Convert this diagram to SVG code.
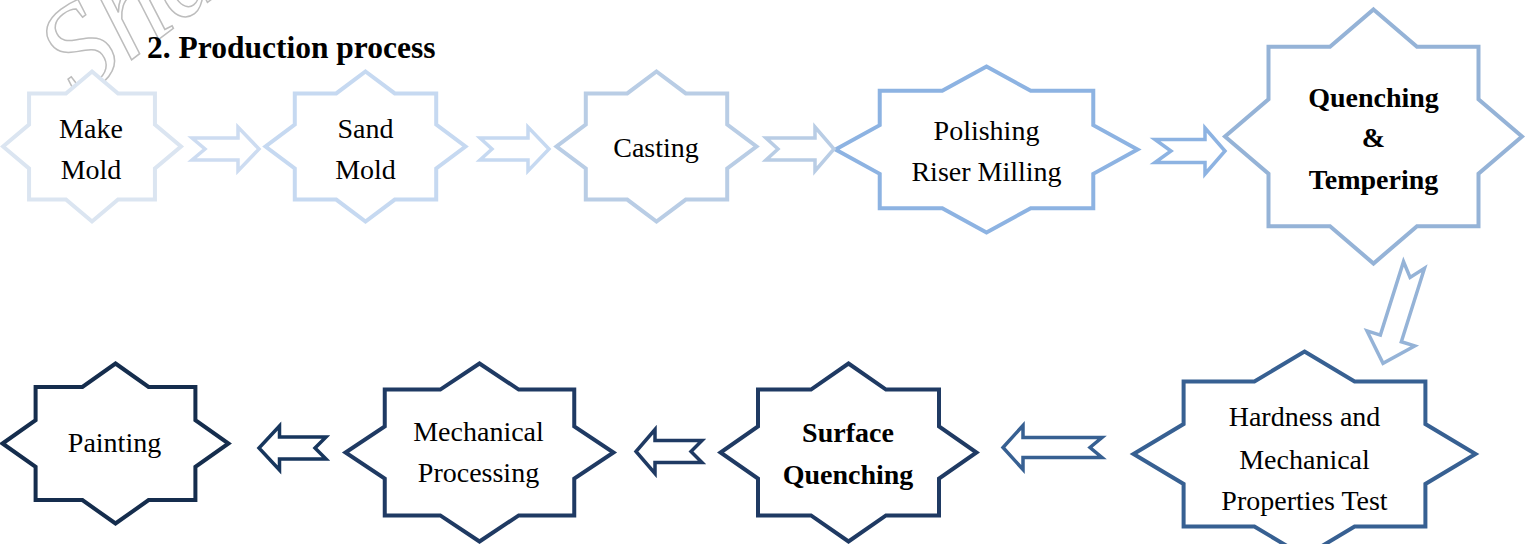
<svg xmlns="http://www.w3.org/2000/svg" width="1535" height="544" viewBox="0 0 1535 544">
<style>
.star{fill:#ffffff;stroke-width:4;stroke-linejoin:miter}
.arr{fill:#ffffff;stroke-width:3.5;stroke-linejoin:miter}
.lbl{font-family:"Liberation Serif","Times New Roman",serif;font-size:28px;fill:#000000;text-anchor:middle}
.b{font-weight:bold}
.wm{font-family:"Liberation Serif","Times New Roman",serif;font-style:italic;font-size:125px;fill:#ffffff;stroke:#bdbdbd;stroke-width:1.5}
</style>
<rect width="1535" height="544" fill="#ffffff"/>
<text class="wm" transform="translate(78,100) rotate(-37)">Sha</text>
<text id="title" x="147" y="58" font-family="'Liberation Serif','Times New Roman',serif" font-size="31.5" font-weight="bold" fill="#000000">2. Production process</text>
<g id="node-make-mold">
<polygon class="star" stroke="#dbe5f1" points="92,71.5 118.07,93.47 154.93,93.47 154.93,124.53 181,146.5 154.93,168.47 154.93,199.53 118.07,199.53 92,221.5 65.93,199.53 29.07,199.53 29.07,168.47 3,146.5 29.07,124.53 29.07,93.47 65.93,93.47"/>
<text class="lbl" x="91" y="137.5">Make</text>
<text class="lbl" x="91" y="178.5">Mold</text>
</g>
<g id="node-sand-mold">
<polygon class="star" stroke="#c6d9f1" points="365.5,71.5 394.79,93.47 436.21,93.47 436.21,124.53 465.5,146.5 436.21,168.47 436.21,199.53 394.79,199.53 365.5,221.5 336.21,199.53 294.79,199.53 294.79,168.47 265.5,146.5 294.79,124.53 294.79,93.47 336.21,93.47"/>
<text class="lbl" x="365.5" y="137.5">Sand</text>
<text class="lbl" x="365.5" y="178.5">Mold</text>
</g>
<g id="node-casting">
<polygon class="star" stroke="#b9cde5" points="656.5,71.5 685.79,93.47 727.21,93.47 727.21,124.53 756.5,146.5 727.21,168.47 727.21,199.53 685.79,199.53 656.5,221.5 627.21,199.53 585.79,199.53 585.79,168.47 556.5,146.5 585.79,124.53 585.79,93.47 627.21,93.47"/>
<text class="lbl" x="656" y="157">Casting</text>
</g>
<g id="node-polishing">
<polygon class="star" stroke="#8db3e2" points="986.5,66.5 1030.73,90.81 1093.27,90.81 1093.27,125.19 1137.5,149.5 1093.27,173.81 1093.27,208.19 1030.73,208.19 986.5,232.5 942.27,208.19 879.73,208.19 879.73,173.81 835.5,149.5 879.73,125.19 879.73,90.81 942.27,90.81"/>
<text class="lbl" x="986.5" y="139.5">Polishing</text>
<text class="lbl" x="986.5" y="180.5">Riser Milling</text>
</g>
<g id="node-quenching-tempering">
<polygon class="star" stroke="#95b3d7" points="1373.5,9.5 1417,46.7 1478.5,46.7 1478.5,99.3 1522,136.5 1478.5,173.7 1478.5,226.3 1417,226.3 1373.5,263.5 1330,226.3 1268.5,226.3 1268.5,173.7 1225,136.5 1268.5,99.3 1268.5,46.7 1330,46.7"/>
<text class="lbl b" x="1373.5" y="106.5">Quenching</text>
<text class="lbl b" x="1373.5" y="147">&amp;</text>
<text class="lbl b" x="1373.5" y="188.5">Tempering</text>
</g>
<g id="node-hardness-test">
<polygon class="star" stroke="#376092" points="1304.5,351.5 1354.6,381.5 1425.4,381.5 1425.4,424 1475.5,454 1425.4,484 1425.4,526.5 1354.6,526.5 1304.5,556.5 1254.4,526.5 1183.6,526.5 1183.6,484 1133.5,454 1183.6,424 1183.6,381.5 1254.4,381.5"/>
<text class="lbl" x="1304.5" y="426">Hardness and</text>
<text class="lbl" x="1304.5" y="468.5">Mechanical</text>
<text class="lbl" x="1304.5" y="510">Properties Test</text>
</g>
<g id="node-surface-quenching">
<polygon class="star" stroke="#1f3a63" points="848.5,363.5 886,389.6 939,389.6 939,426.4 976.5,452.5 939,478.6 939,515.4 886,515.4 848.5,541.5 811,515.4 758,515.4 758,478.6 720.5,452.5 758,426.4 758,389.6 811,389.6"/>
<text class="lbl b" x="848" y="442">Surface</text>
<text class="lbl b" x="848" y="483.5">Quenching</text>
</g>
<g id="node-mechanical-processing">
<polygon class="star" stroke="#1f3a63" points="479.5,363.5 518.75,389.6 574.25,389.6 574.25,426.4 613.5,452.5 574.25,478.6 574.25,515.4 518.75,515.4 479.5,541.5 440.25,515.4 384.75,515.4 384.75,478.6 345.5,452.5 384.75,426.4 384.75,389.6 440.25,389.6"/>
<text class="lbl" x="478.5" y="441">Mechanical</text>
<text class="lbl" x="478.5" y="482">Processing</text>
</g>
<g id="node-painting">
<polygon class="star" stroke="#152d4d" points="115.5,363.5 148.6,386.9 195.4,386.9 195.4,420.1 228.5,443.5 195.4,466.9 195.4,500.1 148.6,500.1 115.5,523.5 82.4,500.1 35.6,500.1 35.6,466.9 2.5,443.5 35.6,420.1 35.6,386.9 82.4,386.9"/>
<text class="lbl" x="114.5" y="452">Painting</text>
</g>
<g id="connectors">
<polygon class="arr" stroke="#cddcf1" points="192,138 238,138 238,127 259,149 238,171 238,160 192,160 205,149"/>
<polygon class="arr" stroke="#c6d9f1" points="480,138 528,138 528,127 549,149 528,171 528,160 480,160 492,149"/>
<polygon class="arr" stroke="#b9cde5" points="766,138 815,138 815,127 834,149 815,171 815,160 766,160 778,149"/>
<polygon class="arr" stroke="#8db3e2" points="1155,139.5 1205,139.5 1205,128 1225,151 1205,174 1205,162.5 1155,162.5 1171,151"/>
<polygon class="arr" stroke="#95b3d7" transform="translate(1414,265) rotate(107.5)" points="0,-11 77,-11 77,-25 103,0 77,25 77,11 0,11 13,0"/>
<polygon class="arr" stroke="#376092" points="1102,437.5 1023,437.5 1023,425.5 1003,447.5 1023,469.5 1023,457.5 1102,457.5 1090,447.5"/>
<polygon class="arr" stroke="#1f3a63" points="702,440.5 655,440.5 655,429.5 636,451.5 655,473.5 655,462.5 702,462.5 691,451.5"/>
<polygon class="arr" stroke="#17365d" points="326,437 279.5,437 279.5,426 259,448 279.5,470 279.5,459 326,459 315,448"/>
</g>
</svg>
